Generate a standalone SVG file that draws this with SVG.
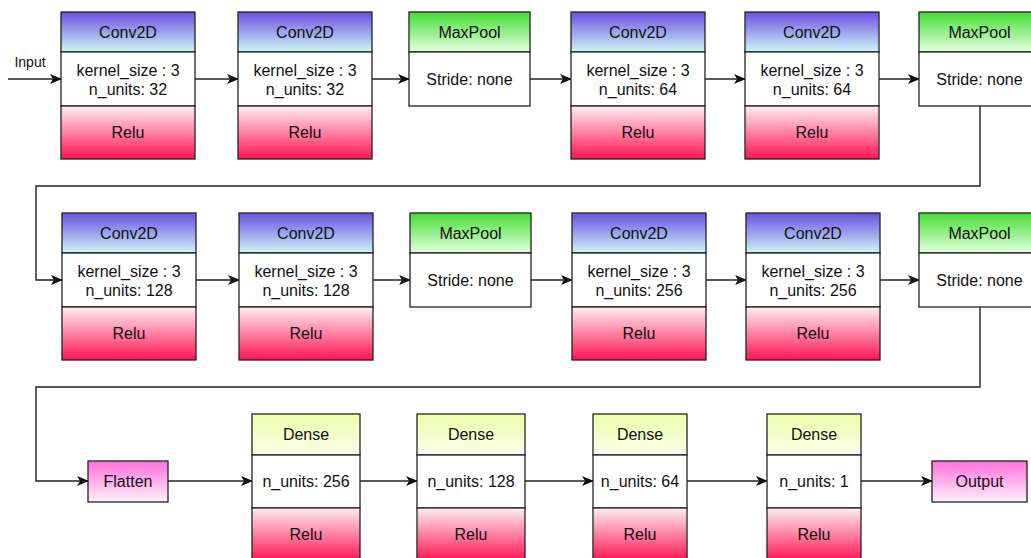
<svg xmlns="http://www.w3.org/2000/svg" width="1031" height="558" viewBox="0 0 1031 558">
  <defs>
    <linearGradient id="gConv" x1="0" y1="0" x2="0" y2="1">
      <stop offset="0" stop-color="#6b4fe4"/>
      <stop offset="1" stop-color="#cdf6f4"/>
    </linearGradient>
    <linearGradient id="gRelu" x1="0" y1="0" x2="0" y2="1">
      <stop offset="0" stop-color="#ffeef2"/>
      <stop offset="1" stop-color="#ff1452"/>
    </linearGradient>
    <linearGradient id="gPool" x1="0" y1="0" x2="0" y2="1">
      <stop offset="0" stop-color="#44dd33"/>
      <stop offset="1" stop-color="#e6ffe2"/>
    </linearGradient>
    <linearGradient id="gDense" x1="0" y1="0" x2="0" y2="1">
      <stop offset="0" stop-color="#eeffaa"/>
      <stop offset="1" stop-color="#fbfdea"/>
    </linearGradient>
    <linearGradient id="gPink" x1="0" y1="0" x2="0" y2="1">
      <stop offset="0" stop-color="#ff70dc"/>
      <stop offset="1" stop-color="#fff0fb"/>
    </linearGradient>
    <marker id="arrow" viewBox="0 0 12 10" refX="11" refY="5" markerWidth="12" markerHeight="10" markerUnits="userSpaceOnUse" orient="auto">
      <path d="M0,0 L12,5 L0,10 L3,5 z" fill="#111"/>
    </marker>
  </defs>
  <style>
    .box { stroke: #222; stroke-width: 1.3; }
    .white { fill: #ffffff; }
    .conv { fill: url(#gConv); }
    .relu { fill: url(#gRelu); }
    .pool { fill: url(#gPool); }
    .dense { fill: url(#gDense); }
    .pink { fill: url(#gPink); }
    text { font-family: "Liberation Sans", Arial, sans-serif; font-size: 16px; fill: #111; text-anchor: middle; dominant-baseline: central; }
    .link { fill: none; stroke: #222; stroke-width: 1.4; marker-end: url(#arrow); }
  </style>

  <rect width="1031" height="558" fill="#ffffff"/>

  <!-- connectors -->
  <g id="connectors">
    <path class="link" d="M8,79 H61"/>
    <path class="link" d="M195,79 H238"/>
    <path class="link" d="M372,79 H409"/>
    <path class="link" d="M530,79 H571"/>
    <path class="link" d="M705,79 H745"/>
    <path class="link" d="M879,79 H919"/>
    <path class="link" d="M980,106 V186 H36 V280 H62"/>
    <path class="link" d="M196,280 H239"/>
    <path class="link" d="M373,280 H410"/>
    <path class="link" d="M531,280 H572"/>
    <path class="link" d="M706,280 H746"/>
    <path class="link" d="M880,280 H919"/>
    <path class="link" d="M980,307 V387 H36 V481 H88"/>
    <path class="link" d="M168,481 H252"/>
    <path class="link" d="M360,481 H417"/>
    <path class="link" d="M525,481 H593"/>
    <path class="link" d="M687,481 H767"/>
    <path class="link" d="M861,481 H932"/>
    <text x="30" y="62" style="font-size:14px">Input</text>
  </g>

  <!-- row 1 -->
  <g id="conv2d-1">
    <rect class="box conv" x="61" y="12" width="134" height="40"/>
    <rect class="box white" x="61" y="52" width="134" height="54"/>
    <rect class="box relu" x="61" y="106" width="134" height="53"/>
    <text x="128" y="32">Conv2D</text>
    <text x="128" y="70">kernel_size : 3</text>
    <text x="128" y="89">n_units: 32</text>
    <text x="128" y="132">Relu</text>
  </g>
  <g id="conv2d-2">
    <rect class="box conv" x="238" y="12" width="134" height="40"/>
    <rect class="box white" x="238" y="52" width="134" height="54"/>
    <rect class="box relu" x="238" y="106" width="134" height="53"/>
    <text x="305" y="32">Conv2D</text>
    <text x="305" y="70">kernel_size : 3</text>
    <text x="305" y="89">n_units: 32</text>
    <text x="305" y="132">Relu</text>
  </g>
  <g id="maxpool-1">
    <rect class="box pool" x="409" y="12" width="121" height="40"/>
    <rect class="box white" x="409" y="52" width="121" height="54"/>
    <text x="469.5" y="32">MaxPool</text>
    <text x="469.5" y="79">Stride: none</text>
  </g>
  <g id="conv2d-3">
    <rect class="box conv" x="571" y="12" width="134" height="40"/>
    <rect class="box white" x="571" y="52" width="134" height="54"/>
    <rect class="box relu" x="571" y="106" width="134" height="53"/>
    <text x="638" y="32">Conv2D</text>
    <text x="638" y="70">kernel_size : 3</text>
    <text x="638" y="89">n_units: 64</text>
    <text x="638" y="132">Relu</text>
  </g>
  <g id="conv2d-4">
    <rect class="box conv" x="745" y="12" width="134" height="40"/>
    <rect class="box white" x="745" y="52" width="134" height="54"/>
    <rect class="box relu" x="745" y="106" width="134" height="53"/>
    <text x="812" y="32">Conv2D</text>
    <text x="812" y="70">kernel_size : 3</text>
    <text x="812" y="89">n_units: 64</text>
    <text x="812" y="132">Relu</text>
  </g>
  <g id="maxpool-2">
    <rect class="box pool" x="919" y="12" width="121" height="40"/>
    <rect class="box white" x="919" y="52" width="121" height="54"/>
    <text x="979.5" y="32">MaxPool</text>
    <text x="979.5" y="79">Stride: none</text>
  </g>

  <!-- row 2 -->
  <g id="conv2d-5">
    <rect class="box conv" x="62" y="213" width="134" height="40"/>
    <rect class="box white" x="62" y="253" width="134" height="54"/>
    <rect class="box relu" x="62" y="307" width="134" height="53"/>
    <text x="129" y="233">Conv2D</text>
    <text x="129" y="271">kernel_size : 3</text>
    <text x="129" y="290">n_units: 128</text>
    <text x="129" y="333">Relu</text>
  </g>
  <g id="conv2d-6">
    <rect class="box conv" x="239" y="213" width="134" height="40"/>
    <rect class="box white" x="239" y="253" width="134" height="54"/>
    <rect class="box relu" x="239" y="307" width="134" height="53"/>
    <text x="306" y="233">Conv2D</text>
    <text x="306" y="271">kernel_size : 3</text>
    <text x="306" y="290">n_units: 128</text>
    <text x="306" y="333">Relu</text>
  </g>
  <g id="maxpool-3">
    <rect class="box pool" x="410" y="213" width="121" height="40"/>
    <rect class="box white" x="410" y="253" width="121" height="54"/>
    <text x="470.5" y="233">MaxPool</text>
    <text x="470.5" y="280">Stride: none</text>
  </g>
  <g id="conv2d-7">
    <rect class="box conv" x="572" y="213" width="134" height="40"/>
    <rect class="box white" x="572" y="253" width="134" height="54"/>
    <rect class="box relu" x="572" y="307" width="134" height="53"/>
    <text x="639" y="233">Conv2D</text>
    <text x="639" y="271">kernel_size : 3</text>
    <text x="639" y="290">n_units: 256</text>
    <text x="639" y="333">Relu</text>
  </g>
  <g id="conv2d-8">
    <rect class="box conv" x="746" y="213" width="134" height="40"/>
    <rect class="box white" x="746" y="253" width="134" height="54"/>
    <rect class="box relu" x="746" y="307" width="134" height="53"/>
    <text x="813" y="233">Conv2D</text>
    <text x="813" y="271">kernel_size : 3</text>
    <text x="813" y="290">n_units: 256</text>
    <text x="813" y="333">Relu</text>
  </g>
  <g id="maxpool-4">
    <rect class="box pool" x="919" y="213" width="121" height="40"/>
    <rect class="box white" x="919" y="253" width="121" height="54"/>
    <text x="979.5" y="233">MaxPool</text>
    <text x="979.5" y="280">Stride: none</text>
  </g>

  <!-- row 3 -->
  <g id="flatten">
    <rect class="box pink" x="88" y="461" width="80" height="41"/>
    <text x="128" y="481">Flatten</text>
  </g>
  <g id="dense-1">
    <rect class="box dense" x="252" y="414" width="108" height="41"/>
    <rect class="box white" x="252" y="455" width="108" height="53"/>
    <rect class="box relu" x="252" y="508" width="108" height="53"/>
    <text x="306" y="434.5">Dense</text>
    <text x="306" y="481">n_units: 256</text>
    <text x="306" y="534">Relu</text>
  </g>
  <g id="dense-2">
    <rect class="box dense" x="417" y="414" width="108" height="41"/>
    <rect class="box white" x="417" y="455" width="108" height="53"/>
    <rect class="box relu" x="417" y="508" width="108" height="53"/>
    <text x="471" y="434.5">Dense</text>
    <text x="471" y="481">n_units: 128</text>
    <text x="471" y="534">Relu</text>
  </g>
  <g id="dense-3">
    <rect class="box dense" x="593" y="414" width="94" height="41"/>
    <rect class="box white" x="593" y="455" width="94" height="53"/>
    <rect class="box relu" x="593" y="508" width="94" height="53"/>
    <text x="640" y="434.5">Dense</text>
    <text x="640" y="481">n_units: 64</text>
    <text x="640" y="534">Relu</text>
  </g>
  <g id="dense-4">
    <rect class="box dense" x="767" y="414" width="94" height="41"/>
    <rect class="box white" x="767" y="455" width="94" height="53"/>
    <rect class="box relu" x="767" y="508" width="94" height="53"/>
    <text x="814" y="434.5">Dense</text>
    <text x="814" y="481">n_units: 1</text>
    <text x="814" y="534">Relu</text>
  </g>
  <g id="output">
    <rect class="box pink" x="932" y="461" width="95" height="41"/>
    <text x="979.5" y="481">Output</text>
  </g>
</svg>
